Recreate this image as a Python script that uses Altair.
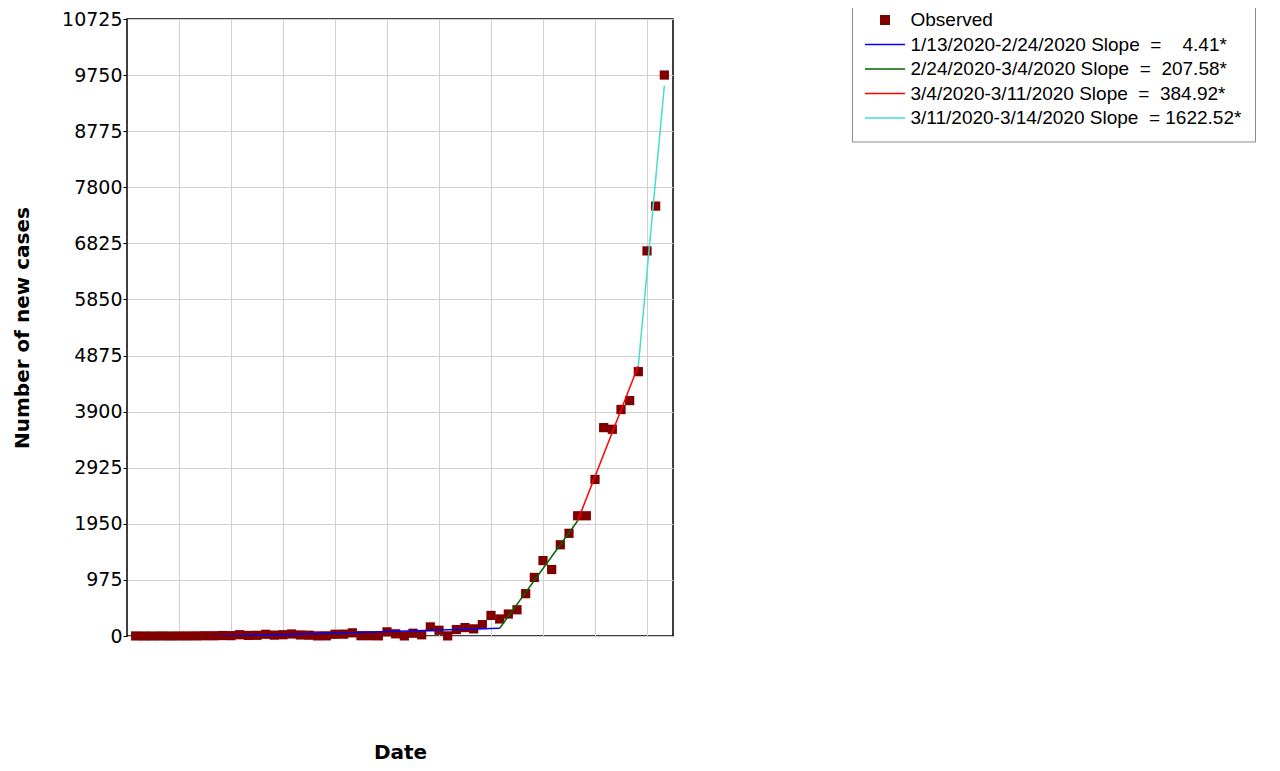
import altair as alt
import pandas as pd

# ---------------- data ----------------
start_date = "2020-01-13"
new_cases = [
    1, 0, 0, 1, 0, 1, 1, 2, 4, 4, 8, 6,
    22, 10, 12, 30, 15, 22, 35, 18, 14, 2, 3, 30,
    32, 55, 5, 5, 3, 72, 38, 2, 48, 21, 158, 100,
    2, 112, 146, 124, 198, 358, 296, 382, 456, 736, 1018, 1311,
    1156, 1586, 1785, 2090, 2090, 2721, 3622, 3593, 3937, 4092, 4595, 6694,
    7473, 9751,
]

series_labels = [
    "Observed",
    "1/13/2020-2/24/2020 Slope\u00a0\u00a0=\u00a0\u00a0\u00a0\u00a04.41*",
    "2/24/2020-3/4/2020 Slope\u00a0\u00a0=\u00a0\u00a0207.58*",
    "3/4/2020-3/11/2020 Slope\u00a0\u00a0=\u00a0\u00a0384.92*",
    "3/11/2020-3/14/2020 Slope\u00a0\u00a0=\u00a01622.52*",
]
series_colors = ["#800000", "#0000ff", "#006400", "#ff0000", "#40e0d0"]

seg_start = ["2020-01-13", "2020-02-24", "2020-03-04", "2020-03-11"]
seg_end = ["2020-02-24", "2020-03-04", "2020-03-11", "2020-03-14"]
seg_start_value = [-50, 135, 2003, 4697]
seg_end_value = [135, 2003, 4697, 9565]

y_ticks = [0, 975, 1950, 2925, 3900, 4875, 5850, 6825, 7800, 8775, 9750, 10725]
grid_dates = ["2020-01-18", "2020-01-24", "2020-01-30", "2020-02-05", "2020-02-11",
              "2020-02-17", "2020-02-23", "2020-02-29", "2020-03-06", "2020-03-12"]
x_domain_dates = ["2020-01-12", "2020-03-15"]

# ---------------- tables ----------------
t0 = pd.Timestamp(start_date)
def day_of(d):
    return (pd.Timestamp(d) - t0).days

dates = pd.date_range(start_date, periods=len(new_cases), freq="D")
obs_df = pd.DataFrame({"day": [(d - t0).days for d in dates], "cases": new_cases})

rows = []
for i in range(4):
    rows.append({"series": series_labels[i + 1], "day": day_of(seg_start[i]), "cases": seg_start_value[i]})
    rows.append({"series": series_labels[i + 1], "day": day_of(seg_end[i]), "cases": seg_end_value[i]})
seg_df = pd.DataFrame(rows)

PLOT_H = 617

x_enc = alt.X(
    "day:Q",
    scale=alt.Scale(domain=[day_of(d) for d in x_domain_dates], nice=False, zero=False),
    axis=alt.Axis(
        title="Date", labels=False, ticks=False, domain=False,
        values=[day_of(d) for d in grid_dates],
        titleX=273, titleY=116, titleBaseline="middle", titleAlign="center",
        titleFont="DejaVu Sans", titleFontSize=20, titleFontWeight="bold", titleColor="black",
    ),
)
y_enc = alt.Y(
    "cases:Q",
    scale=alt.Scale(domain=[0, 10725], nice=False),
    axis=alt.Axis(
        title="Number of new cases", values=y_ticks, format="d", domain=False,
        labelFont="DejaVu Sans", labelFontSize=19, labelColor="black", labelPadding=1,
        tickSize=4, tickColor="black",
        titleX=-105, titleY=PLOT_H / 2, titleAngle=270, titleBaseline="middle", titleAlign="center",
        titleFont="DejaVu Sans", titleFontSize=20, titleFontWeight="bold", titleColor="black",
    ),
)

legend = alt.Legend(
    title=None, orient="none", legendX=725, legendY=-21.5, direction="vertical",
    fillColor="white", strokeColor="#8c8c8c", padding=13,
    labelFont="Liberation Sans", labelFontSize=19, labelColor="black", labelLimit=800,
    rowPadding=4.5, symbolSize=100, symbolOffset=10.5, labelOffset=16,
    symbolStrokeWidth=1.5,
    symbolType=alt.ExprRef(expr="datum.value === 'Observed' ? 'M-0.85,-0.85H0.85V0.85H-0.85Z' : 'M-4,0H4'"),
    symbolFillColor=alt.ExprRef(expr="datum.value === 'Observed' ? '#800000' : 'transparent'"),
)

lines = alt.Chart(seg_df).mark_line(strokeWidth=1.5, clip=True).encode(
    x=x_enc, y=y_enc,
    color=alt.Color("series:N", scale=alt.Scale(domain=series_labels, range=series_colors), legend=legend),
    order="day:Q",
)
points = alt.Chart(obs_df).mark_square(size=85, color="#800000", opacity=1).encode(x=x_enc, y=y_enc)

chart = alt.layer(points, lines).properties(
    width=546, height=PLOT_H,
    padding={"left": 119, "top": 11, "right": 599, "bottom": 127},
    autosize=alt.AutoSizeParams(type="none"),
).configure_view(stroke="black", strokeWidth=1.5).configure_axis(
    gridColor="#d0d0d0", gridWidth=1, gridOpacity=1
)

chart.save("out.html", embed_options={"renderer": "svg", "actions": False})
